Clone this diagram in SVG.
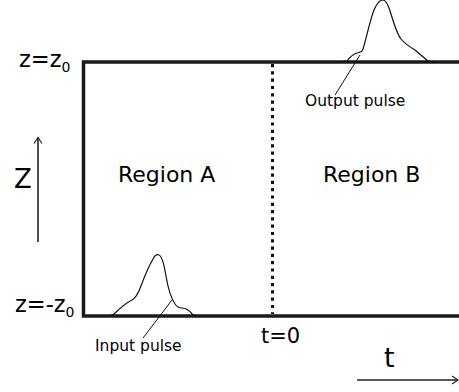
<svg xmlns="http://www.w3.org/2000/svg" width="459" height="392" viewBox="0 0 459 392">
<style>
text{font-family:"DejaVu Sans",sans-serif;fill:#000}
.frame{fill:none;stroke:#1a1a1a;stroke-width:3.5}
.pulse{fill:none;stroke:#111;stroke-width:1.2;stroke-linejoin:round}
.lead{fill:none;stroke:#111;stroke-width:1}
.axis{fill:none;stroke:#222;stroke-width:1.6}
</style>
<defs>
<marker id="ah" markerWidth="10" markerHeight="10" refX="8" refY="5" orient="auto" markerUnits="userSpaceOnUse">
<path d="M2,1 L8,5 L2,9" fill="none" stroke="#222" stroke-width="1.2"/>
</marker>
</defs>
<rect width="459" height="392" fill="#fff"/>
<g id="frame">
<path class="frame" d="M459,62 H83.5 V316 H459"/>
<line x1="272.5" y1="64" x2="272.5" y2="314" stroke="#111" stroke-width="3" stroke-dasharray="3.2 4.1"/>
</g>
<g id="connectors">
<line class="axis" x1="38" y1="242" x2="38" y2="137.5" marker-end="url(#ah)"/>
<line class="axis" x1="357" y1="380" x2="458" y2="380" marker-end="url(#ah)"/>
<line class="lead" x1="360" y1="55" x2="335" y2="95"/>
<line class="lead" x1="172" y1="300" x2="143" y2="338"/>
</g>
<g id="output-pulse">
<path class="pulse" d="M338,62 L347,61 C350,57 353,54 357,53 C361,52 362,52 363,49 C366,40 370,20 374,10 C377,3 380,0 383,0 C386,0 388,4 391,14 C394,24 397,34 401,39 C405,44 410,47 415,50 C420,54 424,58 428,61 L435,62"/>
</g>
<g id="input-pulse">
<path class="pulse" d="M110,315 L113,315 C119,309 126,303 132,300 C136,298 138,294 141,286 C145,275 149,266 153,259 C155,255 157,254 159,255 C162,256 164,264 166,276 C168,288 171,298 175,304 C177,307 179,308 182,308 C187,308 190,311 193,315 L196,315"/>
</g>
<g id="labels">
<text x="19" y="67" font-size="22.5">z=z<tspan font-size="14" dy="5">0</tspan></text>
<text x="15" y="312" font-size="22.5">z=-z<tspan font-size="14" dy="5">0</tspan></text>
<text x="14" y="188" font-size="26">Z</text>
<text x="118" y="182" font-size="22">Region A</text>
<text x="323" y="182" font-size="22">Region B</text>
<text x="305" y="106" font-size="15.5">Output pulse</text>
<text x="95" y="351" font-size="15.5">Input pulse</text>
<text x="261" y="343" font-size="21">t=0</text>
<text x="384" y="367" font-size="27">t</text>
</g>
</svg>
